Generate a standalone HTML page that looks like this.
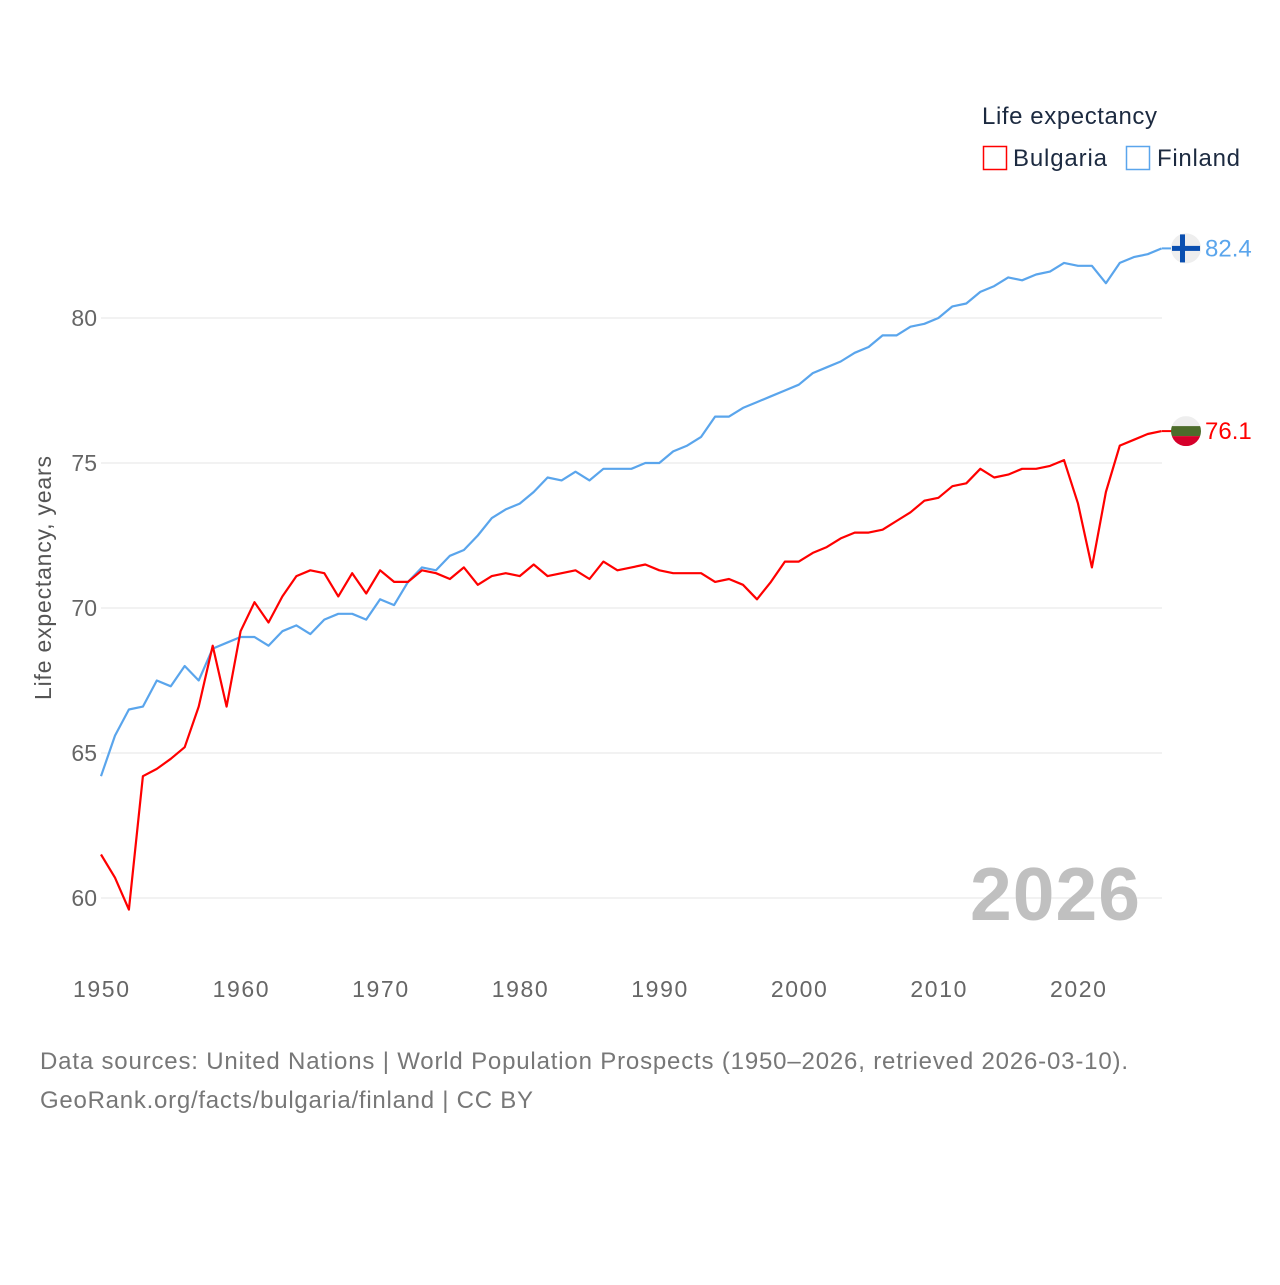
<!DOCTYPE html>
<html><head><meta charset="utf-8"><style>
body{margin:0;background:#fff;}
svg text{font-family:"Liberation Sans",sans-serif;}
</style></head><body>
<svg width="1280" height="1280" viewBox="0 0 1280 1280" xmlns="http://www.w3.org/2000/svg">
<g id="grid"></g><g id="yticks"></g><g id="xticks"></g>
<text x="1140" y="920" text-anchor="end" font-size="75" font-weight="bold" fill="#c0c0c0" textLength="170">2026</text>
<g id="lines"></g>
<text transform="translate(51,578) rotate(-90)" text-anchor="middle" font-size="23" fill="#555" textLength="244">Life expectancy, years</text>
<text x="982" y="124" font-size="24" fill="#1c2a40" textLength="175">Life expectancy</text>
<g><rect x="983.5" y="146.5" width="23" height="23" fill="none" stroke="#ff0000" stroke-width="1.5"/><text x="1013" y="166" font-size="24" fill="#1c2a40" textLength="94">Bulgaria</text></g>
<g><rect x="1126.5" y="146.5" width="23" height="23" fill="none" stroke="#5aa5ec" stroke-width="1.5"/><text x="1157" y="166" font-size="24" fill="#1c2a40" textLength="83">Finland</text></g>
<text x="40" y="1069" font-size="24" fill="#777" textLength="1088">Data sources: United Nations | World Population Prospects (1950–2026, retrieved 2026-03-10).</text>
<text x="40" y="1108" font-size="24" fill="#777" textLength="493">GeoRank.org/facts/bulgaria/finland | CC BY</text>
</svg>
<script>
const years=[];for(let y=1950;y<=2026;y++)years.push(y);
const bulgaria=[61.5,60.7,59.6,64.2,64.45,64.8,65.2,66.6,68.7,66.6,69.2,70.2,69.5,70.4,71.1,71.3,71.2,70.4,71.2,70.5,71.3,70.9,70.9,71.3,71.2,71.0,71.4,70.8,71.1,71.2,71.1,71.5,71.1,71.2,71.3,71.0,71.6,71.3,71.4,71.5,71.3,71.2,71.2,71.2,70.9,71.0,70.8,70.3,70.9,71.6,71.6,71.9,72.1,72.4,72.6,72.6,72.7,73.0,73.3,73.7,73.8,74.2,74.3,74.8,74.5,74.6,74.8,74.8,74.9,75.1,73.6,71.4,74.0,75.6,75.8,76.0,76.1];
const finland=[64.2,65.6,66.5,66.6,67.5,67.3,68.0,67.5,68.6,68.8,69.0,69.0,68.7,69.2,69.4,69.1,69.6,69.8,69.8,69.6,70.3,70.1,70.9,71.4,71.3,71.8,72.0,72.5,73.1,73.4,73.6,74.0,74.5,74.4,74.7,74.4,74.8,74.8,74.8,75.0,75.0,75.4,75.6,75.9,76.6,76.6,76.9,77.1,77.3,77.5,77.7,78.1,78.3,78.5,78.8,79.0,79.4,79.4,79.7,79.8,80.0,80.4,80.5,80.9,81.1,81.4,81.3,81.5,81.6,81.9,81.8,81.8,81.2,81.9,82.1,82.2,82.4];
const yTicks=[60,65,70,75,80];
const xTicks=[1950,1960,1970,1980,1990,2000,2010,2020];
const NS="http://www.w3.org/2000/svg";
const X=y=>101+(y-1950)*(1161.7-101)/76;
const Y=v=>318+(80-v)*29;
function mk(t,a,p){const e=document.createElementNS(NS,t);for(const k in a)e.setAttribute(k,a[k]);p.appendChild(e);return e;}
const g=document.getElementById('grid'),yt=document.getElementById('yticks'),xt=document.getElementById('xticks'),L=document.getElementById('lines');
yTicks.forEach(v=>{
 const l=mk('line',{x1:101,x2:1162,y1:Y(v),y2:Y(v),stroke:'#e6e6e6','stroke-width':1},g);
 
 
 const t=mk('text',{x:97,y:Y(v)+8,'text-anchor':'end','font-size':23,fill:'#666'},yt);t.textContent=v;
 
 
});
xTicks.forEach(v=>{
 const t=mk('text',{x:X(v),y:997,'text-anchor':'middle','font-size':23,fill:'#666',textLength:56},xt);t.textContent=v;
 
 
});
function line(data,color,name){
 const d=data.map((v,i)=>(i?'L':'M')+X(years[i]).toFixed(1)+','+Y(v).toFixed(1)).join('');
 const p=mk('path',{d:d,fill:'none',stroke:color,'stroke-width':2.2,'stroke-linejoin':'round'},L);
 
 
}
line(finland,'#5aa5ec','finland-line');
line(bulgaria,'#ff0000','bulgaria-line');
const fl=finland[finland.length-1],bl=bulgaria[bulgaria.length-1];
const fx=1186,fy=Y(fl),by=Y(bl);
mk('line',{x1:1162,x2:1172,y1:fy,y2:fy,stroke:'#5aa5ec','stroke-width':2},L);
mk('line',{x1:1162,x2:1172,y1:by,y2:by,stroke:'#ff0000','stroke-width':2},L);
const ff=mk('g',{},L);


mk('circle',{cx:fx,cy:fy,r:15,fill:'#eeeeee'},ff);
mk('rect',{x:fx-14,y:fy-2.5,width:28,height:5,fill:'#0a4fb0'},ff);
mk('rect',{x:fx-6,y:fy-14,width:5,height:28,fill:'#0a4fb0'},ff);
const bf=mk('g',{},L);


mk('clipPath',{id:'bc'},bf);
mk('circle',{cx:fx,cy:by,r:15},document.getElementById('bc'));
const bg=mk('g',{'clip-path':'url(#bc)'},bf);
mk('rect',{x:fx-15,y:by-15,width:30,height:10,fill:'#eeeeee'},bg);
mk('rect',{x:fx-15,y:by-5,width:30,height:10,fill:'#4d6c2b'},bg);
mk('rect',{x:fx-15,y:by+5,width:30,height:10,fill:'#d5002a'},bg);
const fv=mk('text',{x:1205,y:fy+8,'font-size':24,fill:'#5aa5ec'},L);fv.textContent=fl.toFixed(1);


const bv=mk('text',{x:1205,y:by+8,'font-size':24,fill:'#ff0000'},L);bv.textContent=bl.toFixed(1);


</script>
</body></html>
